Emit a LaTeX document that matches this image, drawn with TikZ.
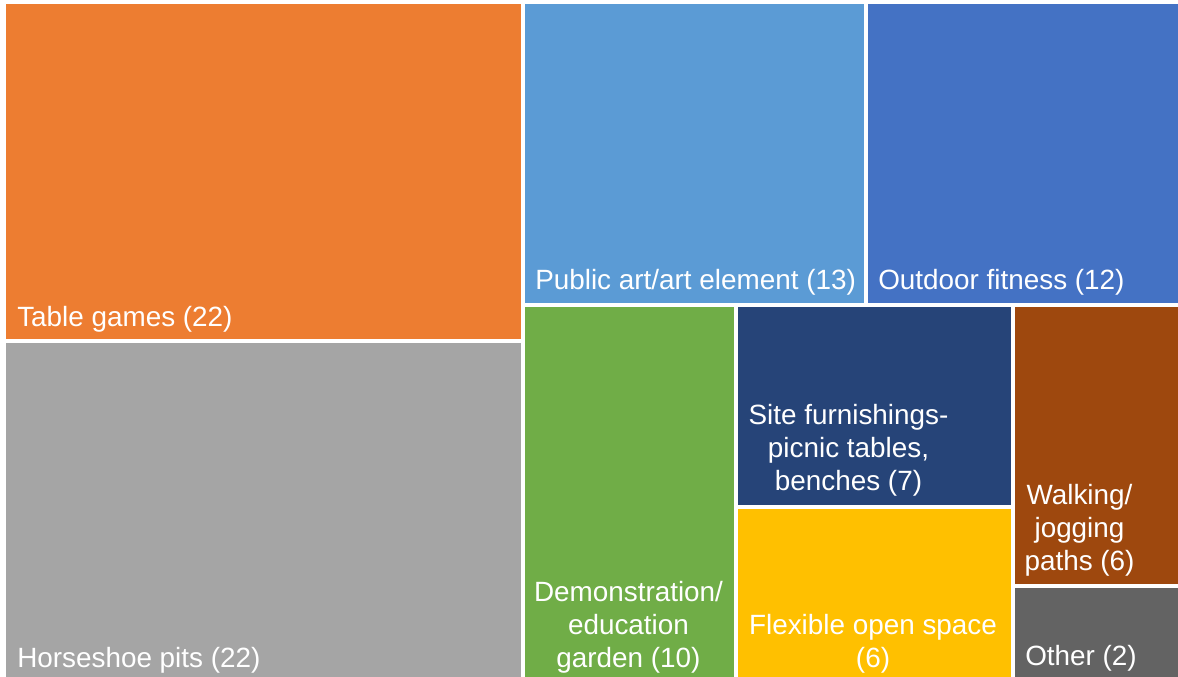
\documentclass[tikz,border=0pt]{standalone}
\usepackage{fontspec}
\setmainfont{Liberation Sans}
\definecolor{cOrange}{HTML}{ED7D31}
\definecolor{cLBlue}{HTML}{5B9BD5}
\definecolor{cBlue}{HTML}{4472C4}
\definecolor{cGray}{HTML}{A5A5A5}
\definecolor{cGreen}{HTML}{70AD47}
\definecolor{cNavy}{HTML}{264478}
\definecolor{cYellow}{HTML}{FFC000}
\definecolor{cBrown}{HTML}{9E480E}
\definecolor{cDGray}{HTML}{636363}
\begin{document}
\begin{tikzpicture}[x=0.75pt,y=-0.75pt,
  lab/.style={inner sep=0pt,text=white,font=\fontsize{20.9}{24.4}\selectfont},
  labl/.style={lab,anchor=base west},
  labc/.style={lab,anchor=base,align=center}]
\fill[white] (0,0) rectangle (1178,677);
\useasboundingbox (0,0) rectangle (1178,677);
\fill[cOrange] (6,4) rectangle (521,339);
\fill[cGray] (6,343) rectangle (521,677);
\fill[cLBlue] (525,4) rectangle (864,303);
\fill[cBlue] (868,4) rectangle (1178,303);
\fill[cGreen] (525,307) rectangle (734,677);
\fill[cNavy] (738,307) rectangle (1011,505);
\fill[cYellow] (738,509) rectangle (1011,677);
\fill[cBrown] (1015,307) rectangle (1178,584);
\fill[cDGray] (1015,588) rectangle (1178,677);
\node[labl] (t1) at (17,326) {Table games (22)};
\node[labl] (t2) at (17,667) {Horseshoe pits (22)};
\node[labl] (t3) at (535,290) {Public art/art element (13)};
\node[labl] (t4) at (878,290) {Outdoor fitness (12)};
\node[labc] (t5) at (628.5,667) {Demonstration/\\education\\garden (10)};
\node[labc] (t6) at (848.5,490) {Site furnishings-\\picnic tables,\\benches (7)};
\node[labc] (t7) at (873,667) {Flexible open space\\(6)};
\node[labc] (t8) at (1079.5,570) {Walking/\\jogging\\paths (6)};
\node[labl] (t9) at (1025,665) {Other (2)};
\end{tikzpicture}
\end{document}
